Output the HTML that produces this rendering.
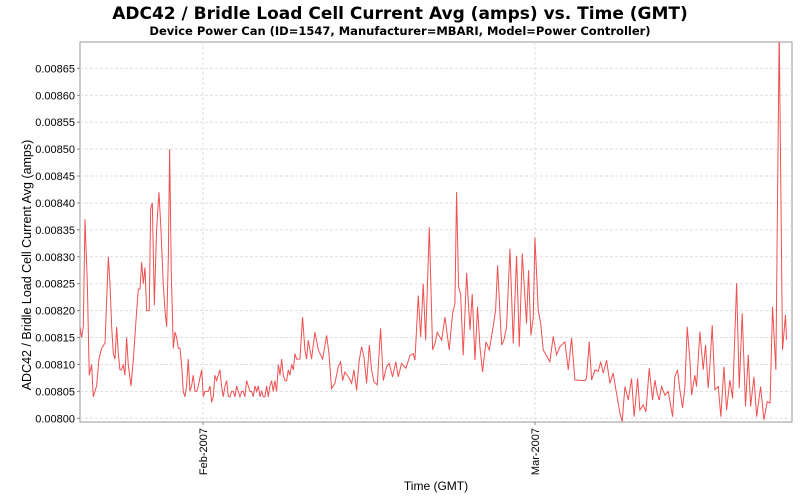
<!DOCTYPE html>
<html><head><meta charset="utf-8"><style>
body{margin:0;background:#fff;}
svg{display:block;font-family:"Liberation Sans","DejaVu Sans",sans-serif;}
</style></head><body>
<svg id="chart" width="800" height="500">
<rect width="800" height="500" fill="#fff"/>
<text x="400" y="19" text-anchor="middle" font-size="17" font-weight="bold" font-family="DejaVu Sans, sans-serif">ADC42 / Bridle Load Cell Current Avg (amps) vs. Time (GMT)</text>
<text x="400" y="35" text-anchor="middle" font-size="11.5" font-weight="bold" font-family="DejaVu Sans, sans-serif">Device Power Can (ID=1547, Manufacturer=MBARI, Model=Power Controller)</text>
<rect x="80" y="42" width="712" height="380" fill="#fff" stroke="#999"/>
<g id="grid"></g>
<g id="yticks"></g>
<g id="xticks"></g>
<defs><clipPath id="clip"><rect x="80" y="42" width="712" height="380"/></clipPath></defs>
<path id="line" fill="none" stroke="#f05050" stroke-width="1" clip-path="url(#clip)"/>
<text transform="translate(31,265) rotate(-90)" text-anchor="middle" font-size="12.5">ADC42 / Bridle Load Cell Current Avg (amps)</text>
<text x="436" y="490" text-anchor="middle" font-size="12">Time (GMT)</text>
</svg>
<script>
// time in days relative to 2007-02-01 00:00 GMT
const days = [-10.37,-10.23,-10.09,-9.95,-9.75,-9.59,-9.39,-9.25,-9.11,-8.97,-8.77,-8.55,-8.26,-7.98,-7.84,-7.70,-7.56,-7.42,-7.28,-7.14,-7.00,-6.86,-6.72,-6.58,-6.44,-6.30,-6.07,-5.87,-5.59,-5.45,-5.31,-5.17,-5.03,-4.89,-4.75,-4.53,-4.41,-4.27,-4.10,-3.91,-3.71,-3.54,-3.35,-3.20,-3.06,-2.92,-2.81,-2.67,-2.50,-2.36,-2.22,-2.08,-1.94,-1.80,-1.66,-1.52,-1.38,-1.24,-1.10,-0.96,-0.82,-0.67,-0.53,-0.39,-0.11,0.03,0.17,0.31,0.45,0.59,0.73,0.87,1.01,1.15,1.29,1.43,1.57,1.71,1.86,2.00,2.14,2.28,2.42,2.56,2.70,2.84,2.98,3.12,3.26,3.40,3.54,3.68,3.82,3.96,4.10,4.24,4.39,4.53,4.67,4.81,4.95,5.09,5.23,5.37,5.51,5.65,5.79,5.93,6.07,6.21,6.36,6.50,6.64,6.77,6.92,7.06,7.20,7.34,7.48,7.62,7.76,7.90,8.18,
8.40,8.60,8.74,8.88,9.16,9.44,9.73,10.09,10.43,10.63,10.85,11.13,11.41,11.61,11.78,11.97,12.26,12.54,12.73,12.96,13.18,13.38,13.58,13.80,14.03,14.22,14.42,14.70,14.98,15.21,15.49,15.71,15.99,16.27,16.47,16.75,17.12,17.46,17.74,17.88,18.16,18.36,18.58,18.78,19.09,19.37,19.57,19.76,20.13,20.41,20.77,21.05,21.25,21.39,21.56,21.73,21.95,22.24,22.52,22.71,22.94,23.16,23.36,23.58,23.87,24.15,24.43,24.68,24.85,25.19,25.38,25.61,25.89,26.17,26.45,26.68,26.93,27.29,27.46,27.66,27.86,28.00,28.28,28.48,28.70,
29.26,29.54,29.82,30.11,30.53,30.81,31.09,31.37,32.21,32.35,32.58,32.78,33.06,33.34,33.54,33.76,34.04,34.32,34.60,34.88,35.17,35.36,35.59,35.87,36.15,36.37,36.66,36.85,37.13,37.36,37.64,37.92,38.12,38.31,38.48,38.68,38.96,39.24,39.61,39.80,40.03,40.22,40.45,40.65,40.84,41.07,41.21,41.49,41.63,41.91,42.19,42.39,42.61,42.75,42.95,43.18,43.46,43.68,43.94,44.16,44.44,44.67,45.01,45.23,45.48,45.76,45.99,46.19,46.47,46.70,47.03,47.31,47.59,47.83,48.04,48.32,48.60,48.88,49.13,49.22];
// current in units of 1e-5 amps (817 => 0.00817 A)
const currentE5 = [817,815,817,837,825,808,810,804,805,806,811,813,814,830,825,817,812,811,817,812,809,809,810,808,815,810,806,811,820,824,824,829,825,828,820,820,839,840,821,835,842,835,825,820,817,830,850,827,813,816,815,813,813,810,805,804,806,811,805,806,808,805,805,806,809,804,805,805,805,806,803,804,808,807,808,809,806,804,806,807,804,804,805,805,804,806,805,804,805,805,804,807,806,805,805,804,806,805,806,804,805,804,804,806,804,806,807,805,807,805,810,808,811,808,807,807,809,808,810,809,812,811,811,
818.8,812.7,811,814.5,811,816,812.7,811,815.4,812,805.5,806.5,809.6,810.5,807,808.6,807.7,806.5,809,805.2,810.8,813.3,811.4,806.5,813.6,809,806.8,806.2,816.7,807,809.6,810.2,807.7,810.5,807.7,810.2,809.3,811.7,812,810.8,822.8,815.1,825,814.5,835.5,812.7,813.9,816,814.5,818.8,812.7,819.4,821.3,842,824.4,823.1,811.7,827,816.4,823.1,810.8,820.7,813.3,808.6,814.2,812.7,816.4,820,828.4,813.6,814.5,817,831.5,813.9,830.2,813.3,830.6,817.6,827.5,815.4,818.8,833.6,820,817.7,812.7,
810.5,815.2,811.8,813.3,814.2,809,814.9,807.1,807,807.4,814.2,807.1,809,808.7,810.5,808.4,810.8,806.5,808.4,804.6,800.9,799.4,805.9,803.4,807.4,800.3,807.4,801.5,802.5,801.2,809.3,803.4,807.1,804.6,803.4,805.9,804.3,805,800.3,807.7,809,805.3,801.9,805.9,817,810.8,804.3,808,805.9,816.1,809,813.6,805.6,809.6,817.3,805.3,805.9,800.3,809.6,801.5,807.1,803.7,825.1,805.6,819.5,802.2,811.8,802.2,807.7,800.3,805.9,799.7,803.1,802.8,820.7,809,872,812.7,819.2,814.6];
const yTickValues = [800,805,810,815,820,825,830,835,840,845,850,855,860,865];
const yTickLabels = ["0.00800","0.00805","0.00810","0.00815","0.00820","0.00825","0.00830","0.00835","0.00840","0.00845","0.00850","0.00855","0.00860","0.00865"];
const xTickDays = [0,28];
const xTickLabels = ["Feb-2007","Mar-2007"];

const X0=80,X1=792,Y0=422,Y1=42;
const dMin=-10.37,dMax=49.68,vMin=799.31,vMax=869.9;
function xs(d){return X0+(d-dMin)/(dMax-dMin)*(X1-X0);}
function ys(v){return Y0-(v-vMin)/(vMax-vMin)*(Y0-Y1);}
const NS="http://www.w3.org/2000/svg";
const grid=document.getElementById('grid'),yt=document.getElementById('yticks'),xt=document.getElementById('xticks');
yTickValues.forEach((v,i)=>{
  const y=ys(v);
  const g=document.createElementNS(NS,'line');
  g.setAttribute('x1',X0);g.setAttribute('x2',X1);g.setAttribute('y1',y);g.setAttribute('y2',y);
  g.setAttribute('stroke','#ddd');g.setAttribute('stroke-dasharray','3,2');
  
  
  grid.appendChild(g);
  const tk=document.createElementNS(NS,'line');
  tk.setAttribute('x1',X0-3);tk.setAttribute('x2',X0);tk.setAttribute('y1',y);tk.setAttribute('y2',y);tk.setAttribute('stroke','#888');
  
  
  yt.appendChild(tk);
  const t=document.createElementNS(NS,'text');
  t.setAttribute('x',X0-5);t.setAttribute('y',y+4);t.setAttribute('text-anchor','end');t.setAttribute('font-size','11');
  t.textContent=yTickLabels[i];
  
  
  yt.appendChild(t);
});
xTickDays.forEach((d,i)=>{
  const x=xs(d);
  const g=document.createElementNS(NS,'line');
  g.setAttribute('x1',x);g.setAttribute('x2',x);g.setAttribute('y1',Y1);g.setAttribute('y2',Y0);
  g.setAttribute('stroke','#ddd');g.setAttribute('stroke-dasharray','3,2');
  
  
  grid.appendChild(g);
  const tk=document.createElementNS(NS,'line');
  tk.setAttribute('x1',x);tk.setAttribute('x2',x);tk.setAttribute('y1',Y0);tk.setAttribute('y2',Y0+3);tk.setAttribute('stroke','#888');
  
  
  xt.appendChild(tk);
  const t=document.createElementNS(NS,'text');
  t.setAttribute('transform','translate('+(x+4)+','+(Y0+6)+') rotate(-90)');
  t.setAttribute('text-anchor','end');t.setAttribute('font-size','11');
  t.textContent=xTickLabels[i];
  
  
  xt.appendChild(t);
});
let dStr='';
days.forEach((d,i)=>{dStr+=(i?'L':'M')+xs(d).toFixed(2)+','+ys(currentE5[i]).toFixed(2);});
document.getElementById('line').setAttribute('d',dStr);
</script>
</body></html>
